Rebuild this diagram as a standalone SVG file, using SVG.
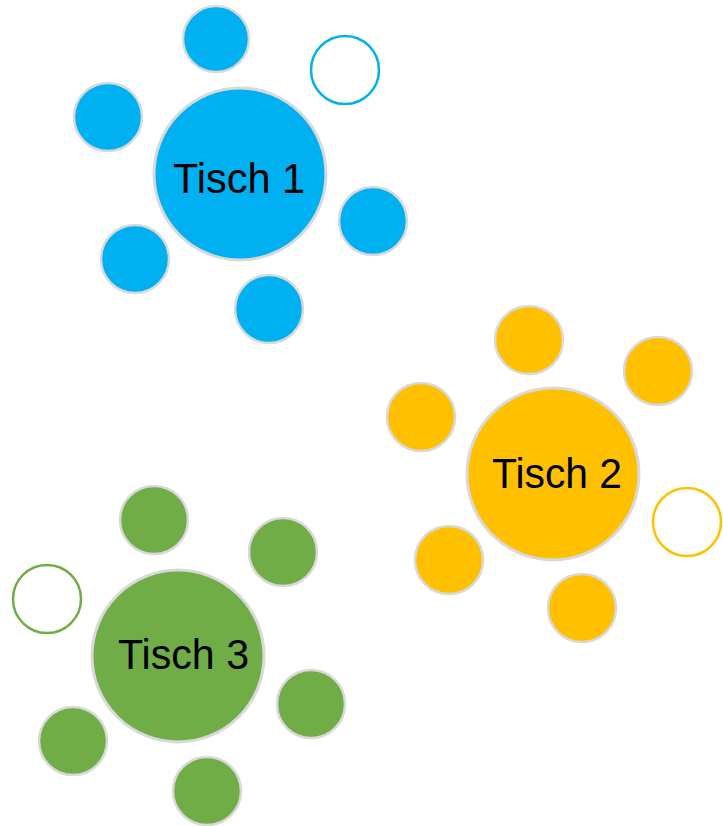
<svg xmlns="http://www.w3.org/2000/svg" width="723" height="826" viewBox="0 0 723 826">
  <style>
    .seat { stroke: #d9d9d9; stroke-width: 2.5; }
    .table { stroke: #d9d9d9; stroke-width: 3; }
    .blue { fill: #00b0f0; }
    .orange { fill: #ffc000; }
    .green { fill: #70ad47; }
    .free { fill: #ffffff; stroke-width: 2.5; }
    .label { font-family: "Liberation Sans", Arial, sans-serif; font-size: 43px; fill: #000000; text-anchor: middle; }
  </style>
  <rect width="723" height="826" fill="#ffffff"/>

  <g id="tisch1">
    <circle class="seat blue" cx="216" cy="39" r="33"/>
    <circle class="free" cx="345" cy="70" r="34" stroke="#00b0f0"/>
    <circle class="seat blue" cx="108" cy="117" r="34"/>
    <circle class="seat blue" cx="373" cy="221" r="34"/>
    <circle class="seat blue" cx="135" cy="259" r="34"/>
    <circle class="seat blue" cx="269" cy="309" r="34"/>
    <circle class="table blue" cx="240" cy="174" r="86"/>
    <text class="label" x="239" y="193" textLength="132" lengthAdjust="spacingAndGlyphs">Tisch 1</text>
  </g>

  <g id="tisch2">
    <circle class="seat orange" cx="529" cy="340" r="34"/>
    <circle class="seat orange" cx="658" cy="371" r="34"/>
    <circle class="seat orange" cx="421" cy="417" r="34"/>
    <circle class="free" cx="687" cy="522" r="34" stroke="#ffc000"/>
    <circle class="seat orange" cx="449" cy="560" r="34"/>
    <circle class="seat orange" cx="582" cy="608" r="34"/>
    <circle class="table orange" cx="553" cy="474" r="86"/>
    <text class="label" x="557" y="488" textLength="130" lengthAdjust="spacingAndGlyphs">Tisch 2</text>
  </g>

  <g id="tisch3">
    <circle class="seat green" cx="154" cy="520" r="34"/>
    <circle class="seat green" cx="283" cy="552" r="34"/>
    <circle class="free" cx="47" cy="599" r="34" stroke="#70ad47"/>
    <circle class="seat green" cx="311" cy="704" r="34"/>
    <circle class="seat green" cx="73" cy="741" r="34"/>
    <circle class="seat green" cx="207" cy="791" r="34"/>
    <circle class="table green" cx="178" cy="656" r="86"/>
    <text class="label" x="183.5" y="669" textLength="131" lengthAdjust="spacingAndGlyphs">Tisch 3</text>
  </g>

  <g id="connectors"/>
</svg>
